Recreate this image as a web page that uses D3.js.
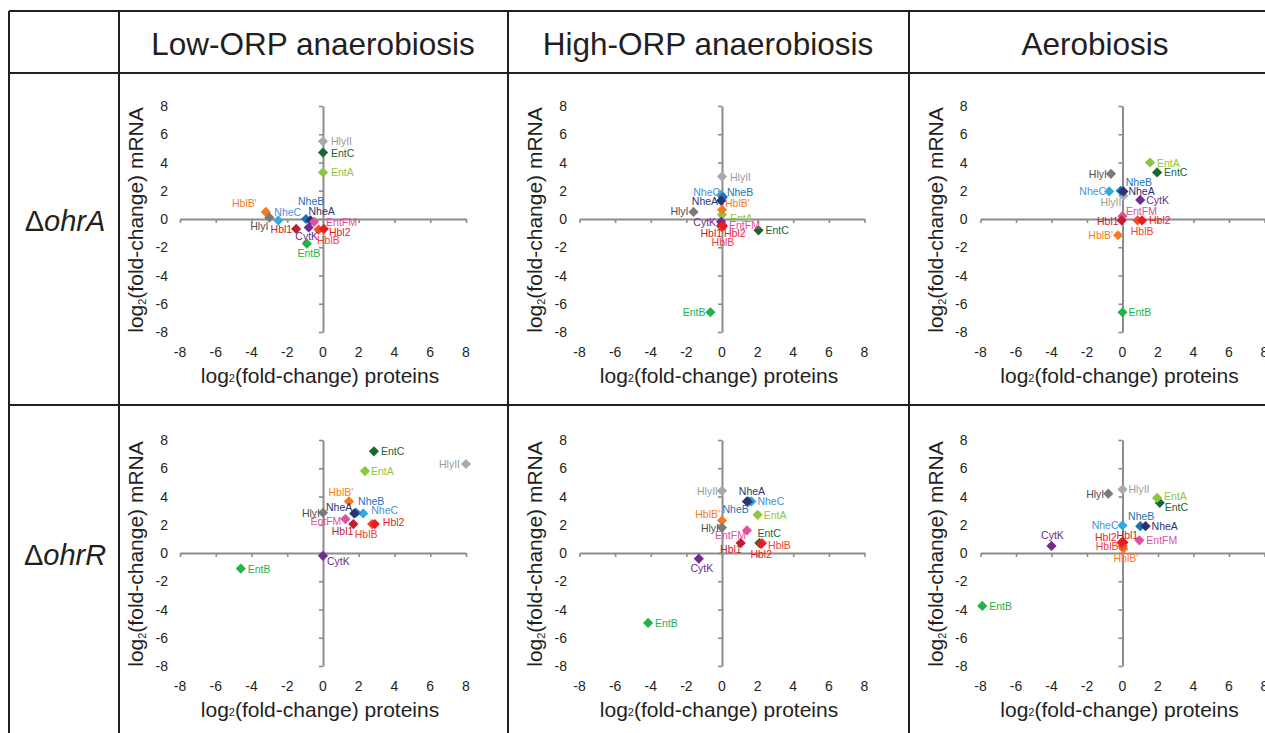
<!DOCTYPE html>
<html><head><meta charset="utf-8">
<script src="https://cdn.jsdelivr.net/npm/d3@7"></script>
<style>
html,body{margin:0;padding:0;background:#fff;}
svg text{font-family:"Liberation Sans",Arial,Helvetica,sans-serif;}
</style></head>
<body><svg id="chart" width="1265" height="733"></svg>
<script>
// ---------------- DATA ----------------
const conditions = ["Low-ORP anaerobiosis", "High-ORP anaerobiosis", "Aerobiosis"];
const mutants = ["ohrA", "ohrR"];
const tickValues = [-8, -6, -4, -2, 0, 2, 4, 6, 8];
const genes = ["HlyII","EntC","EntA","HblB'","HlyI","NheC","NheB","NheA","EntFM","CytK","Hbl1","HblB","Hbl2","EntB"];
const geneColors = ["#a9a9a9","#1b6535","#8cc63e","#f47b20","#7a7a7a","#33a9e0","#1f71b8","#2b3472","#e0509d","#6f2c91","#be1e2d","#f04e23","#ed1c24","#26b24b"];
const labelColors = ["#9a9a9a","#1b6535","#8cc63e","#f47b20","#4d4d4d","#4a90d9","#1f71b8","#2b3472","#e0509d","#6f2c91","#be1e2d","#ef4136","#ed1c24","#26b24b"];

// log2(fold-change) proteins (x) and mRNA (y), in gene order above
const ohrA_low_protein  = [0.0, 0.0, 0.0, -3.2, -3.0, -2.5, -0.95, -0.7, -0.5, -0.8, -1.5, -0.25, 0.05, -0.9];
const ohrA_low_mrna     = [5.5, 4.7, 3.3, 0.5, 0.1, -0.1, 0.0, -0.1, -0.2, -0.6, -0.7, -0.75, -0.7, -1.75];
const ohrA_high_protein = [0.0, 2.05, 0.0, 0.0, -1.6, -0.05, 0.05, -0.05, 0.0, -0.05, -0.05, 0.0, 0.05, -0.65];
const ohrA_high_mrna    = [3.0, -0.8, 0.3, 0.65, 0.5, 1.7, 1.55, 1.3, -0.4, -0.2, -0.5, -0.6, -0.5, -6.6];
const ohrA_aero_protein = [0.05, 1.95, 1.55, -0.25, -0.65, -0.75, -0.1, 0.05, 0.0, 1.0, -0.05, 0.85, 1.1, 0.0];
const ohrA_aero_mrna    = [1.65, 3.3, 4.0, -1.15, 3.2, 1.95, 2.0, 1.95, 0.2, 1.35, -0.1, -0.1, -0.1, -6.6];
const ohrR_low_protein  = [8.0, 2.85, 2.35, 1.45, 0.0, 2.25, 1.85, 1.75, 1.25, 0.0, 1.7, 2.75, 2.9, -4.6];
const ohrR_low_mrna     = [6.3, 7.2, 5.8, 3.65, 2.85, 2.8, 2.85, 2.8, 2.4, -0.2, 2.05, 2.05, 2.05, -1.1];
const ohrR_high_protein = [0.0, 2.1, 2.0, 0.0, 0.0, 1.65, 1.5, 1.4, 1.4, -1.3, 1.05, 2.25, 2.2, -4.15];
const ohrR_high_mrna    = [4.4, 0.7, 2.7, 2.3, 1.8, 3.65, 3.65, 3.65, 1.6, -0.4, 0.7, 0.7, 0.65, -4.95];
const ohrR_aero_protein = [0.0, 2.1, 1.95, 0.05, -0.8, 0.0, 1.0, 1.3, 0.95, -4.0, 0.05, 0.0, -0.05, -7.9];
const ohrR_aero_mrna    = [4.5, 3.55, 3.9, 0.3, 4.2, 1.95, 1.9, 1.9, 0.9, 0.5, 0.75, 0.5, 0.75, -3.75];

// ---------------- LAYOUT (label placement: dx, dy, anchor) ----------------
const labelPlacement = [
  { // ohrA low
    "HlyII":[8,0,"start"],"EntC":[8,0,"start"],"EntA":[8,0,"start"],"HblB'":[-9,-9,"end"],
    "HlyI":[-1,8,"end"],"NheC":[-4,-8,"start"],"NheB":[-8,-18,"start"],"NheA":[-2,-9,"start"],
    "EntFM":[12,0,"start"],"CytK":[-2,9,"middle"],"Hbl1":[-4,0,"end"],"HblB":[-1.5,10.5,"start"],
    "Hbl2":[5,3,"start"],"EntB":[2,9,"middle"]},
  { // ohrA high
    "HlyII":[8,0,"start"],"EntC":[7,0,"start"],"EntA":[8,3,"start"],"HblB'":[3,-6.5,"start"],
    "HlyI":[-5,-1,"end"],"NheC":[-1,-3,"end"],"NheB":[4,-5,"start"],"NheA":[-3,0,"end"],
    "EntFM":[7,0,"start"],"CytK":[-5,0,"end"],"Hbl1":[1,7,"end"],"HblB":[1,14.5,"middle"],
    "Hbl2":[1,7,"start"],"EntB":[-5,0,"end"]},
  { // ohrA aero
    "HlyII":[-2,6.6,"end"],"EntC":[7,0,"start"],"EntA":[7,0,"start"],"HblB'":[-5,0,"end"],
    "HlyI":[-4,0,"end"],"NheC":[-3,0,"end"],"NheB":[5,-9,"start"],"NheA":[5,0,"start"],
    "EntFM":[3.5,-5,"start"],"CytK":[6,0,"start"],"Hbl1":[-3,0.6,"end"],"HblB":[4.5,11,"middle"],
    "Hbl2":[7,0,"start"],"EntB":[6,0,"start"]},
  { // ohrR low
    "HlyII":[-6,0,"end"],"EntC":[7,0,"start"],"EntA":[6,0,"start"],"HblB'":[-8,-9,"middle"],
    "HlyI":[-3,0,"end"],"NheC":[8,-3,"start"],"NheB":[2,-12,"start"],"NheA":[-2,-6,"end"],
    "EntFM":[-4,2,"end"],"CytK":[4,5,"start"],"Hbl1":[0,7,"end"],"HblB":[-6,9.5,"middle"],
    "Hbl2":[8,-2,"start"],"EntB":[7,0,"start"]},
  { // ohrR high
    "HlyII":[-4,0,"end"],"EntC":[-2,-10,"start"],"EntA":[6,0,"start"],"HblB'":[-2,-7,"end"],
    "HlyI":[-3,0,"end"],"NheC":[6,0,"start"],"NheB":[0,8,"end"],"NheA":[5,-10,"middle"],
    "EntFM":[-1,5,"end"],"CytK":[3,9,"middle"],"Hbl1":[1,6,"end"],"HblB":[6,2,"start"],
    "Hbl2":[0,10,"middle"],"EntB":[7,0,"start"]},
  { // ohrR aero
    "HlyII":[6,0,"start"],"EntC":[5,4,"start"],"EntA":[7,-2,"start"],"HblB'":[2.5,9,"middle"],
    "HlyI":[-4,0,"end"],"NheC":[-4,0,"end"],"NheB":[1,-10,"middle"],"NheA":[6,0,"start"],
    "EntFM":[7,0,"start"],"CytK":[1,-11,"middle"],"Hbl1":[4,-7,"middle"],"HblB":[-4,0,"end"],
    "Hbl2":[-5,-5,"end"],"EntB":[7,0,"start"]}
];

const panels = [
  {row:0,col:0,px:ohrA_low_protein, py:ohrA_low_mrna},
  {row:0,col:1,px:ohrA_high_protein,py:ohrA_high_mrna},
  {row:0,col:2,px:ohrA_aero_protein,py:ohrA_aero_mrna},
  {row:1,col:0,px:ohrR_low_protein, py:ohrR_low_mrna},
  {row:1,col:1,px:ohrR_high_protein,py:ohrR_high_mrna},
  {row:1,col:2,px:ohrR_aero_protein,py:ohrR_aero_mrna}
];

const colX0 = [323, 722, 1122.5];
const colHalf = [143, 142.5, 142];
const rowY0 = [219, 553];
const rowHalf = 113;
const axisColor = "#8c8c8c";
const lineColor = "#231f20";

const svg = d3.select("#chart");

// ---------- table grid ----------
const grid = svg.append("g").attr("stroke", lineColor).attr("stroke-width", 2);
[[9,11,1265,11],[9,73,1265,73],[9,405,1265,405],
 [9,11,9,733],[119,11,119,733],[508,11,508,733],[909,11,909,733]]
 .forEach(l => grid.append("line").attr("x1",l[0]).attr("y1",l[1]).attr("x2",l[2]).attr("y2",l[3]));

// headers
const headerX = [313, 708, 1095];
conditions.forEach((c,i) => svg.append("text").attr("x",headerX[i]).attr("y",44)
  .attr("text-anchor","middle").attr("dominant-baseline","central")
  .attr("font-size",31.5).attr("fill",lineColor).text(c));

// row labels
mutants.forEach((m,i) => {
  const t = svg.append("text").attr("x",65).attr("y",rowY0[i]+2)
    .attr("text-anchor","middle").attr("dominant-baseline","central")
    .attr("font-size",29).attr("fill",lineColor);
  t.append("tspan").text("\u0394");
  t.append("tspan").attr("font-style","italic").text(m);
});

// ---------- panels ----------
panels.forEach((p, pi) => {
  const x0 = colX0[p.col], y0 = rowY0[p.row];
  const x = d3.scaleLinear().domain([-8,8]).range([x0 - colHalf[p.col], x0 + colHalf[p.col]]);
  const y = d3.scaleLinear().domain([-8,8]).range([y0 + rowHalf, y0 - rowHalf]);
  const g = svg.append("g");

  const xa = g.append("g").attr("transform",`translate(0,${y(0)})`)
    .call(d3.axisBottom(x).tickValues(tickValues).tickSize(4).tickSizeOuter(0).tickFormat(""));
  const ya = g.append("g").attr("transform",`translate(${x(0)},0)`)
    .call(d3.axisLeft(y).tickValues(tickValues).tickSize(4).tickSizeOuter(0).tickFormat(""));
  [xa, ya].forEach(a => {
    a.select(".domain").attr("stroke",axisColor).attr("stroke-width",2);
    a.selectAll(".tick line").attr("stroke",axisColor).attr("stroke-width",1.6);
  });

  // tick labels
  g.selectAll(".xtl").data(tickValues).enter().append("text")
    .attr("x", d => x(d)).attr("y", y0 + 133).attr("text-anchor","middle")
    .attr("dominant-baseline","central").attr("font-size",14).attr("fill",lineColor)
    .text(d => d);
  g.selectAll(".ytl").data(tickValues).enter().append("text")
    .attr("x", x0 - 155).attr("y", d => y(d)).attr("text-anchor","end")
    .attr("dominant-baseline","central").attr("font-size",14).attr("fill",lineColor)
    .text(d => d);

  // axis titles
  const xt = g.append("text").attr("x", x0 - 3).attr("y", y0 + 156)
    .attr("text-anchor","middle").attr("dominant-baseline","central")
    .attr("font-size",21).attr("fill",lineColor);
  xt.append("tspan").text("log");
  xt.append("tspan").attr("font-size",11).attr("dy",3).text("2");
  xt.append("tspan").attr("dy",-3).text("(fold-change) proteins");

  const yt = g.append("text").attr("transform",`translate(${x0-180},${y0+1}) rotate(-90)`)
    .attr("text-anchor","middle").attr("font-size",21).attr("fill",lineColor);
  yt.append("tspan").text("log");
  yt.append("tspan").attr("font-size",11).attr("dy",3).text("2");
  yt.append("tspan").attr("dy",-3).text("(fold-change) mRNA");

  // points
  const pts = genes.map((gname,i) => ({gene:gname, xv:p.px[i], yv:p.py[i], c:geneColors[i], lc:labelColors[i]}));
  const diamond = d3.symbol().type(d3.symbolSquare).size(52);
  g.selectAll(".pt").data(pts).enter().append("path")
    .attr("d", diamond)
    .attr("transform", d => `translate(${x(d.xv)},${y(d.yv)}) rotate(45)`)
    .attr("fill", d => d.c);

  const lp = labelPlacement[pi];
  g.selectAll(".lbl").data(pts).enter().append("text")
    .attr("x", d => x(d.xv) + lp[d.gene][0])
    .attr("y", d => y(d.yv) + lp[d.gene][1])
    .attr("text-anchor", d => lp[d.gene][2])
    .attr("dominant-baseline","central")
    .attr("font-size",10.5).attr("fill", d => d.lc)
    .text(d => d.gene);
});
</script></body></html>
